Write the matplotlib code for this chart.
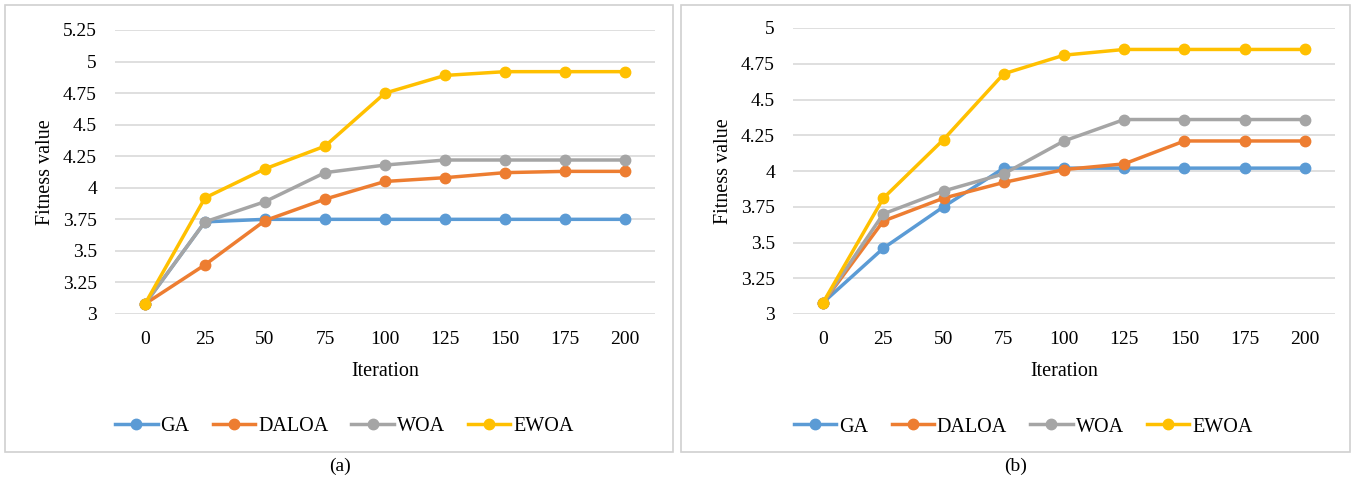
import matplotlib
matplotlib.use("Agg")
import matplotlib.pyplot as plt
from matplotlib.patches import Rectangle

plt.rcParams['font.family'] = ['Liberation Serif', 'DejaVu Serif']

# Data
iterations = ['0', '25', '50', '75', '100', '125', '150', '175', '200']
series_names = ['GA', 'DALOA', 'WOA', 'EWOA']
colors = ['#5B9BD5', '#ED7D31', '#A5A5A5', '#FFC000']

ga_a = [3.08, 3.73, 3.75, 3.75, 3.75, 3.75, 3.75, 3.75, 3.75]
daloa_a = [3.08, 3.39, 3.74, 3.91, 4.05, 4.08, 4.12, 4.13, 4.13]
woa_a = [3.08, 3.73, 3.89, 4.12, 4.18, 4.22, 4.22, 4.22, 4.22]
ewoa_a = [3.08, 3.92, 4.15, 4.33, 4.75, 4.89, 4.92, 4.92, 4.92]

ga_b = [3.08, 3.46, 3.75, 4.02, 4.02, 4.02, 4.02, 4.02, 4.02]
daloa_b = [3.08, 3.65, 3.81, 3.92, 4.01, 4.05, 4.21, 4.21, 4.21]
woa_b = [3.08, 3.70, 3.86, 3.98, 4.21, 4.36, 4.36, 4.36, 4.36]
ewoa_b = [3.08, 3.81, 4.22, 4.68, 4.81, 4.85, 4.85, 4.85, 4.85]

yticks_a = [3, 3.25, 3.5, 3.75, 4, 4.25, 4.5, 4.75, 5, 5.25]
yticks_b = [3, 3.25, 3.5, 3.75, 4, 4.25, 4.5, 4.75, 5]
ytick_labels_a = ['3', '3.25', '3.5', '3.75', '4', '4.25', '4.5', '4.75', '5', '5.25']
ytick_labels_b = ['3', '3.25', '3.5', '3.75', '4', '4.25', '4.5', '4.75', '5']

W, H = 1354, 479
fig = plt.figure(figsize=(W / 100, H / 100), dpi=100)

# panel frames
for x0, x1 in [(5, 673), (681, 1350)]:
    fig.patches.append(Rectangle((x0 / W, 1 - 452 / H), (x1 - x0) / W, 447 / H,
                                 transform=fig.transFigure, fill=False,
                                 edgecolor='#d0d0d0', linewidth=1.2))


def draw_panel(rect, data, yticks, ylabels, caption, cap_x):
    ax = fig.add_axes(rect)
    x = list(range(len(iterations)))
    for name, vals, c in zip(series_names, data, colors):
        ax.plot(x, vals, color=c, linewidth=2.5, marker='o', markersize=7.5,
                label=name, zorder=3)
    ax.set_xlim(-0.5, len(iterations) - 0.5)
    ax.set_ylim(yticks[0], yticks[-1])
    ax.set_yticks(yticks)
    ax.set_yticklabels(ylabels)
    ax.set_xticks(x)
    ax.set_xticklabels(iterations)
    ax.grid(axis='y', color='#d9d9d9', linewidth=1.2, zorder=0)
    for s in ax.spines.values():
        s.set_visible(False)
    ax.tick_params(length=0, labelsize=14, pad=12)
    ax.tick_params(axis='y', pad=13)
    ax.set_xlabel('Iteration', fontsize=14.5, labelpad=10)
    ax.set_ylabel('Fitness value', fontsize=14.5, labelpad=6)
    ax.legend(loc='center', bbox_to_anchor=(0.425, -0.395), ncol=4, frameon=False,
              fontsize=14.5, handlelength=2.1, handletextpad=0.15, columnspacing=1.15)
    fig.text(cap_x / W, 1 - 466 / H, caption, ha='center', va='center', fontsize=14)
    return ax


draw_panel([115 / W, 1 - 314 / H, 540 / W, 284 / H],
           [ga_a, daloa_a, woa_a, ewoa_a], yticks_a, ytick_labels_a, '(a)', 340)
draw_panel([793 / W, 1 - 314 / H, 542 / W, 286 / H],
           [ga_b, daloa_b, woa_b, ewoa_b], yticks_b, ytick_labels_b, '(b)', 1016)

fig.savefig('out.png', dpi=100)
